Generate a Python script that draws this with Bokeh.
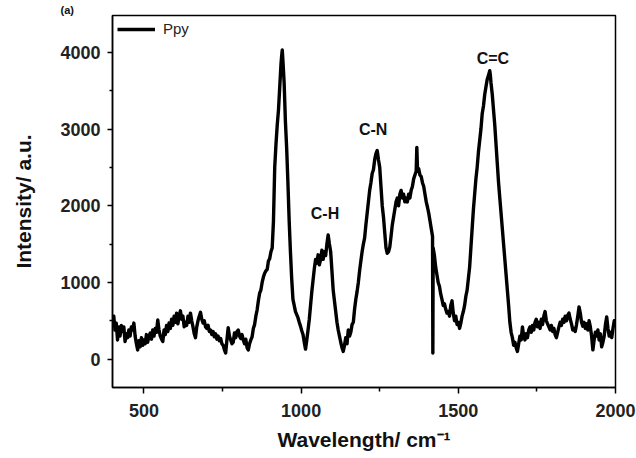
from bokeh.plotting import figure
from bokeh.models import ColumnDataSource, LabelSet, Legend, LegendItem, FixedTicker, Range1d
from bokeh.core.properties import value
from bokeh.embed import file_html
from bokeh.resources import INLINE

# Raman spectrum of Ppy
wavenumber = [
    400, 404, 408, 412, 416, 420, 424, 428, 432, 436, 440, 444, 448, 452, 456, 460, 464, 468, 472, 476,
    480, 484, 488, 492, 496, 500, 504, 508, 512, 516, 520, 524, 528, 532, 536, 540, 544, 548, 552, 556,
    560, 564, 568, 572, 576, 580, 584, 588, 592, 596, 600, 604, 608, 612, 616, 620, 624, 628, 632, 636,
    640, 644, 648, 652, 656, 660, 664, 668, 672, 676, 680, 684, 688, 692, 696, 700, 704, 708, 712, 716,
    720, 724, 728, 732, 736, 740, 744, 748, 752, 756, 760, 764, 768, 772, 776, 780, 784, 788, 792, 796,
    800, 804, 808, 812, 816, 820, 824, 828, 832, 836, 840, 844, 848, 852, 856, 860, 864, 868, 872, 876,
    880, 884, 888, 892, 896, 900, 904, 908, 912, 916, 920, 924, 928, 932, 936, 938, 940, 942, 944, 946,
    950, 954, 958, 962, 966, 970, 974, 978, 982, 986, 990, 994, 998, 1002, 1006, 1010, 1014, 1018, 1022, 1026,
    1030, 1034, 1038, 1042, 1046, 1050, 1054, 1058, 1062, 1066, 1070, 1074, 1078, 1082, 1086, 1090, 1094, 1098, 1102, 1106,
    1110, 1114, 1118, 1122, 1126, 1130, 1134, 1138, 1142, 1146, 1150, 1154, 1158, 1162, 1166, 1170, 1174, 1178, 1182, 1186,
    1190, 1194, 1198, 1202, 1206, 1210, 1214, 1218, 1222, 1226, 1230, 1234, 1238, 1242, 1246, 1250, 1254, 1258, 1262, 1266,
    1270, 1274, 1278, 1282, 1286, 1290, 1294, 1298, 1302, 1306, 1310, 1314, 1318, 1322, 1326, 1330, 1334, 1338, 1342, 1346,
    1350, 1354, 1358, 1362, 1366, 1368, 1370, 1374, 1378, 1382, 1386, 1390, 1394, 1398, 1402, 1406, 1410, 1414, 1418, 1419,
    1420, 1424, 1428, 1432, 1436, 1440, 1444, 1448, 1452, 1456, 1460, 1464, 1468, 1472, 1476, 1480, 1484, 1488, 1492, 1496,
    1500, 1504, 1508, 1512, 1516, 1520, 1524, 1528, 1532, 1536, 1540, 1544, 1548, 1552, 1556, 1560, 1564, 1568, 1572, 1576,
    1580, 1584, 1588, 1592, 1596, 1600, 1602, 1604, 1608, 1612, 1616, 1620, 1624, 1628, 1632, 1636, 1640, 1644, 1648, 1652,
    1656, 1660, 1664, 1668, 1672, 1676, 1680, 1684, 1688, 1692, 1696, 1700, 1704, 1708, 1712, 1716, 1720, 1724, 1728, 1732,
    1736, 1740, 1744, 1748, 1752, 1756, 1760, 1764, 1768, 1772, 1776, 1780, 1784, 1788, 1792, 1796, 1800, 1804, 1808, 1812,
    1816, 1820, 1824, 1828, 1832, 1836, 1840, 1844, 1848, 1852, 1856, 1860, 1864, 1868, 1872, 1876, 1880, 1884, 1888, 1892,
    1896, 1900, 1904, 1908, 1912, 1916, 1920, 1924, 1928, 1932, 1936, 1940, 1944, 1948, 1952, 1956, 1960, 1964, 1968, 1972,
    1976, 1980, 1984, 1988, 1992, 1996, 2000,
]
intensity = [
    520, 560, 380, 470, 250, 420, 300, 440, 360, 420, 230, 330, 280, 380, 300, 420, 380, 470, 300, 200,
    120, 240, 160, 280, 180, 250, 200, 320, 220, 300, 340, 260, 380, 300, 400, 350, 510, 380, 300, 260,
    230, 380, 320, 440, 360, 470, 400, 520, 440, 560, 480, 600, 460, 560, 630, 520, 560, 420, 480, 440,
    560, 480, 600, 500, 420, 330, 280, 420, 500, 560, 610, 520, 470, 500, 420, 400, 440, 360, 380, 320,
    360, 290, 330, 260, 300, 240, 270, 200, 180, 120, 80, 250, 410, 300, 250, 200, 220, 340, 280, 360,
    380, 300, 270, 320, 250, 200, 260, 150, 120, 200, 250, 290, 400, 450, 560, 640, 760, 860, 900, 1000,
    1070, 1120, 1150, 1170, 1280, 1310, 1400, 1450, 1800, 2500, 2800, 3050, 3250, 3550, 3850, 3950, 4030, 3900, 3750, 3600,
    3100, 2750, 2300, 1800, 1400, 1050, 780, 700, 620, 580, 540, 480, 430, 370, 320, 220, 130, 250, 380, 520,
    700, 880, 1030, 1180, 1300, 1250, 1360, 1230, 1300, 1420, 1300, 1400, 1350, 1500, 1620, 1500, 1400, 1150, 900, 760,
    620, 480, 380, 300, 220, 150, 100, 180, 280, 200, 380, 300, 350, 450, 480, 650, 780, 880, 1000, 1150,
    1280, 1400, 1500, 1580, 1750, 1900, 2050, 2200, 2300, 2420, 2470, 2600, 2680, 2720, 2600, 2500, 2250, 2000, 1850, 1650,
    1450, 1380, 1400, 1460, 1600, 1750, 1850, 1950, 2050, 2100, 2000, 2150, 2200, 2100, 2150, 2050, 2100, 2050, 2150, 2100,
    2200, 2250, 2350, 2400, 2450, 2760, 2500, 2480, 2400, 2380, 2300, 2250, 2150, 2050, 1980, 1900, 1800, 1700, 1600, 80,
    1450, 1350, 1200, 1100, 1000, 950, 850, 780, 700, 720, 650, 600, 620, 560, 700, 760, 600, 500, 560, 450,
    480, 400, 470, 560, 620, 700, 820, 900, 1050, 1200, 1450, 1700, 1950, 2150, 2350, 2500, 2700, 2850, 3000, 3200,
    3300, 3450, 3550, 3650, 3700, 3760, 3700, 3600, 3450, 3250, 3050, 2800, 2550, 2300, 2100, 1900, 1700, 1500, 1300, 1100,
    900, 700, 480, 350, 280, 180, 220, 150, 100, 200, 300, 250, 420, 300, 250, 330, 280, 380, 420, 350,
    440, 380, 480, 520, 420, 480, 400, 520, 450, 560, 620, 500, 460, 420, 380, 440, 360, 400, 320, 280,
    350, 420, 480, 440, 520, 480, 560, 500, 570, 600, 520, 460, 380, 400, 360, 450, 560, 680, 600, 480,
    430, 480, 400, 460, 380, 500, 420, 300, 120, 250, 350, 300, 380, 250, 330, 160, 220, 300, 450, 550,
    400, 300, 350, 280, 400, 500, 420,
]

# Peak annotations
peak_names = ["C-H", "C-N", "C=C"]
peak_x = [1076, 1229, 1610]
peak_y = [1900, 3000, 3920]

x_ticks = [500, 1000, 1500, 2000]
y_ticks = [0, 1000, 2000, 3000, 4000]

FONT = "Liberation Sans"

p = figure(width=636, height=458, output_backend="svg", toolbar_location=None,
           x_range=Range1d(400, 2000), y_range=Range1d(-370, 4480),
           min_border_left=112, min_border_right=21, min_border_top=15, min_border_bottom=71)

p.title.text = "(a)"
p.title.align = "left"
p.title.offset = -52
p.title.standoff = 0
p.title.text_font = FONT
p.title.text_font_style = "bold"
p.title.text_font_size = "11px"
p.title.text_color = "#111111"

p.background_fill_color = "white"
p.border_fill_color = "white"
p.outline_line_color = "black"
p.outline_line_width = 1.5
p.grid.visible = False

src = ColumnDataSource(data=dict(x=wavenumber, y=intensity))
r = p.line("x", "y", source=src, line_color="black", line_width=3.4, line_join="round")

lab_src = ColumnDataSource(data=dict(x=peak_x, y=peak_y, t=peak_names))
p.add_layout(LabelSet(x="x", y="y", text="t", source=lab_src, text_align="center",
                      text_baseline="middle", text_font=value(FONT), text_font_style="bold",
                      text_font_size="16px", text_color="#111111"))

for ax in (p.xaxis[0], p.yaxis[0]):
    ax.axis_line_width = 1.5
    ax.axis_line_color = "black"
    ax.major_tick_line_width = 1.5
    ax.minor_tick_line_width = 1.5
    ax.major_tick_line_color = "black"
    ax.minor_tick_line_color = "black"
    ax.major_tick_in = 0
    ax.minor_tick_in = 0
    ax.major_label_text_font = FONT
    ax.major_label_text_font_style = "bold"
    ax.major_label_text_font_size = "18px"
    ax.major_label_text_color = "#222222"
    ax.axis_label_text_font = FONT
    ax.axis_label_text_font_style = "bold"
    ax.axis_label_text_font_size = "21px"
    ax.axis_label_text_color = "#111111"

p.xaxis.ticker = FixedTicker(ticks=x_ticks, minor_ticks=[750, 1250, 1750])
p.yaxis.ticker = FixedTicker(ticks=y_ticks, minor_ticks=[500, 1500, 2500, 3500])
p.xaxis.major_tick_out = 6
p.xaxis.minor_tick_out = 4
p.yaxis.major_tick_out = 5
p.yaxis.minor_tick_out = 3
p.xaxis.major_label_standoff = 10
p.yaxis.major_label_standoff = 7
p.xaxis.axis_label = "Wavelength/ cm\u207b\u00b9"
p.yaxis.axis_label = "Intensity/ a.u."
p.xaxis.axis_label_standoff = 8
p.yaxis.axis_label_standoff = 22

legend = Legend(items=[LegendItem(label="Ppy", renderers=[r])], location="top_left",
                margin=5, padding=7, glyph_width=38, glyph_height=12, label_height=12,
                label_text_font=FONT, label_text_font_size="15px", label_text_color="#222222",
                label_standoff=8, border_line_color=None, background_fill_alpha=0)
p.add_layout(legend)

open("out.html", "w").write(file_html(p, INLINE))
